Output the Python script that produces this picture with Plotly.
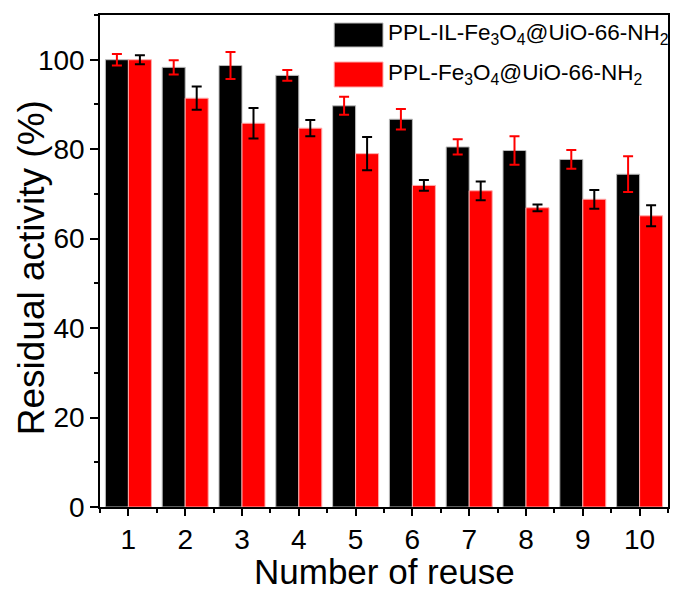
import plotly.graph_objects as go

reuse = [1, 2, 3, 4, 5, 6, 7, 8, 9, 10]
il_vals = [100.0, 98.3, 98.7, 96.5, 89.7, 86.7, 80.5, 79.7, 77.7, 74.4]
il_err = [1.3, 1.6, 3.0, 1.2, 2.0, 2.3, 1.7, 3.2, 2.1, 4.0]
plain_vals = [100.0, 91.4, 85.8, 84.7, 79.0, 71.9, 70.7, 66.9, 68.8, 65.1]
plain_err = [1.0, 2.6, 3.4, 1.8, 3.7, 1.2, 2.1, 0.75, 2.1, 2.35]

name_il = "PPL-IL-Fe<sub>3</sub>O<sub>4</sub>@UiO-66-NH<sub>2</sub>"
name_plain = "PPL-Fe<sub>3</sub>O<sub>4</sub>@UiO-66-NH<sub>2</sub>"
x_title = "Number of reuse"
y_title = "Residual activity (%)"

FONT = "Liberation Sans, Arial, sans-serif"

fig = go.Figure()
fig.add_trace(go.Bar(
    x=reuse, y=il_vals, name=name_il,
    marker=dict(color="#000000", line=dict(color="#bbbbbb", width=1)),
    error_y=dict(type="data", array=il_err, color="#ff0000", thickness=2, width=5),
))
fig.add_trace(go.Bar(
    x=reuse, y=plain_vals, name=name_plain,
    marker=dict(color="#ff0000", line=dict(color="#ffaaaa", width=1)),
    error_y=dict(type="data", array=plain_err, color="#000000", thickness=2, width=5),
))

L, R, T, B = 100, 4, 15, 85
W, H = 674, 592
pw = W - L - R
ph = H - T - B

def px2x(px):
    return (px - L) / pw

def py2y(py):
    return (H - B - py) / ph

# custom legend
legend_rows = [(name_il, "#000000", "#bbbbbb", 23, 47), (name_plain, "#ff0000", "#ffaaaa", 62, 87)]
for text, col, lcol, top, bot in legend_rows:
    fig.add_shape(type="rect", xref="paper", yref="paper",
                  x0=px2x(335), x1=px2x(384), y0=py2y(bot), y1=py2y(top),
                  fillcolor=col, line=dict(color=lcol, width=1))
    fig.add_annotation(xref="paper", yref="paper", x=px2x(387), y=py2y((top + bot) / 2 - 1),
                       xanchor="left", yanchor="middle", text=text, showarrow=False,
                       font=dict(family=FONT, size=22.5, color="#000000"))

# axis titles
fig.add_annotation(xref="paper", yref="paper", x=px2x(385), y=py2y(592),
                   xanchor="center", yanchor="bottom", text=x_title, showarrow=False,
                   borderpad=0, font=dict(family=FONT, size=35, color="#000000"))
fig.add_annotation(xref="paper", yref="paper", x=px2x(31), y=py2y(268),
                   xanchor="center", yanchor="middle", text=y_title, showarrow=False,
                   textangle=-90, font=dict(family=FONT, size=37, color="#000000"))

fig.update_layout(
    width=W, height=H,
    margin=dict(l=L, r=R, t=T, b=B),
    paper_bgcolor="white", plot_bgcolor="white",
    barmode="group", bargap=0.19, bargroupgap=0,
    showlegend=False,
    font=dict(family=FONT, color="#000000"),
)
fig.update_xaxes(
    range=[0.5, 10.5], tickmode="linear", tick0=1, dtick=1,
    ticks="outside", ticklen=7, tickwidth=1.5, tickcolor="#000000",
    minor=dict(ticks="outside", ticklen=4, tickwidth=1.5, tickcolor="#000000", tick0=0.5, dtick=1),
    showline=True, linecolor="#000000", linewidth=1.5, mirror=True,
    showgrid=False, zeroline=False,
    tickfont=dict(family=FONT, size=28),
)
fig.update_yaxes(
    range=[0, 110], tickmode="linear", tick0=0, dtick=20,
    ticks="outside", ticklen=8, tickwidth=1.5, tickcolor="#000000",
    minor=dict(ticks="outside", ticklen=4, tickwidth=1.5, tickcolor="#000000", tick0=0, dtick=10),
    showline=True, linecolor="#000000", linewidth=1.5, mirror=True,
    showgrid=False, zeroline=False,
    tickfont=dict(family=FONT, size=28),
)

fig.write_html("out.html")
